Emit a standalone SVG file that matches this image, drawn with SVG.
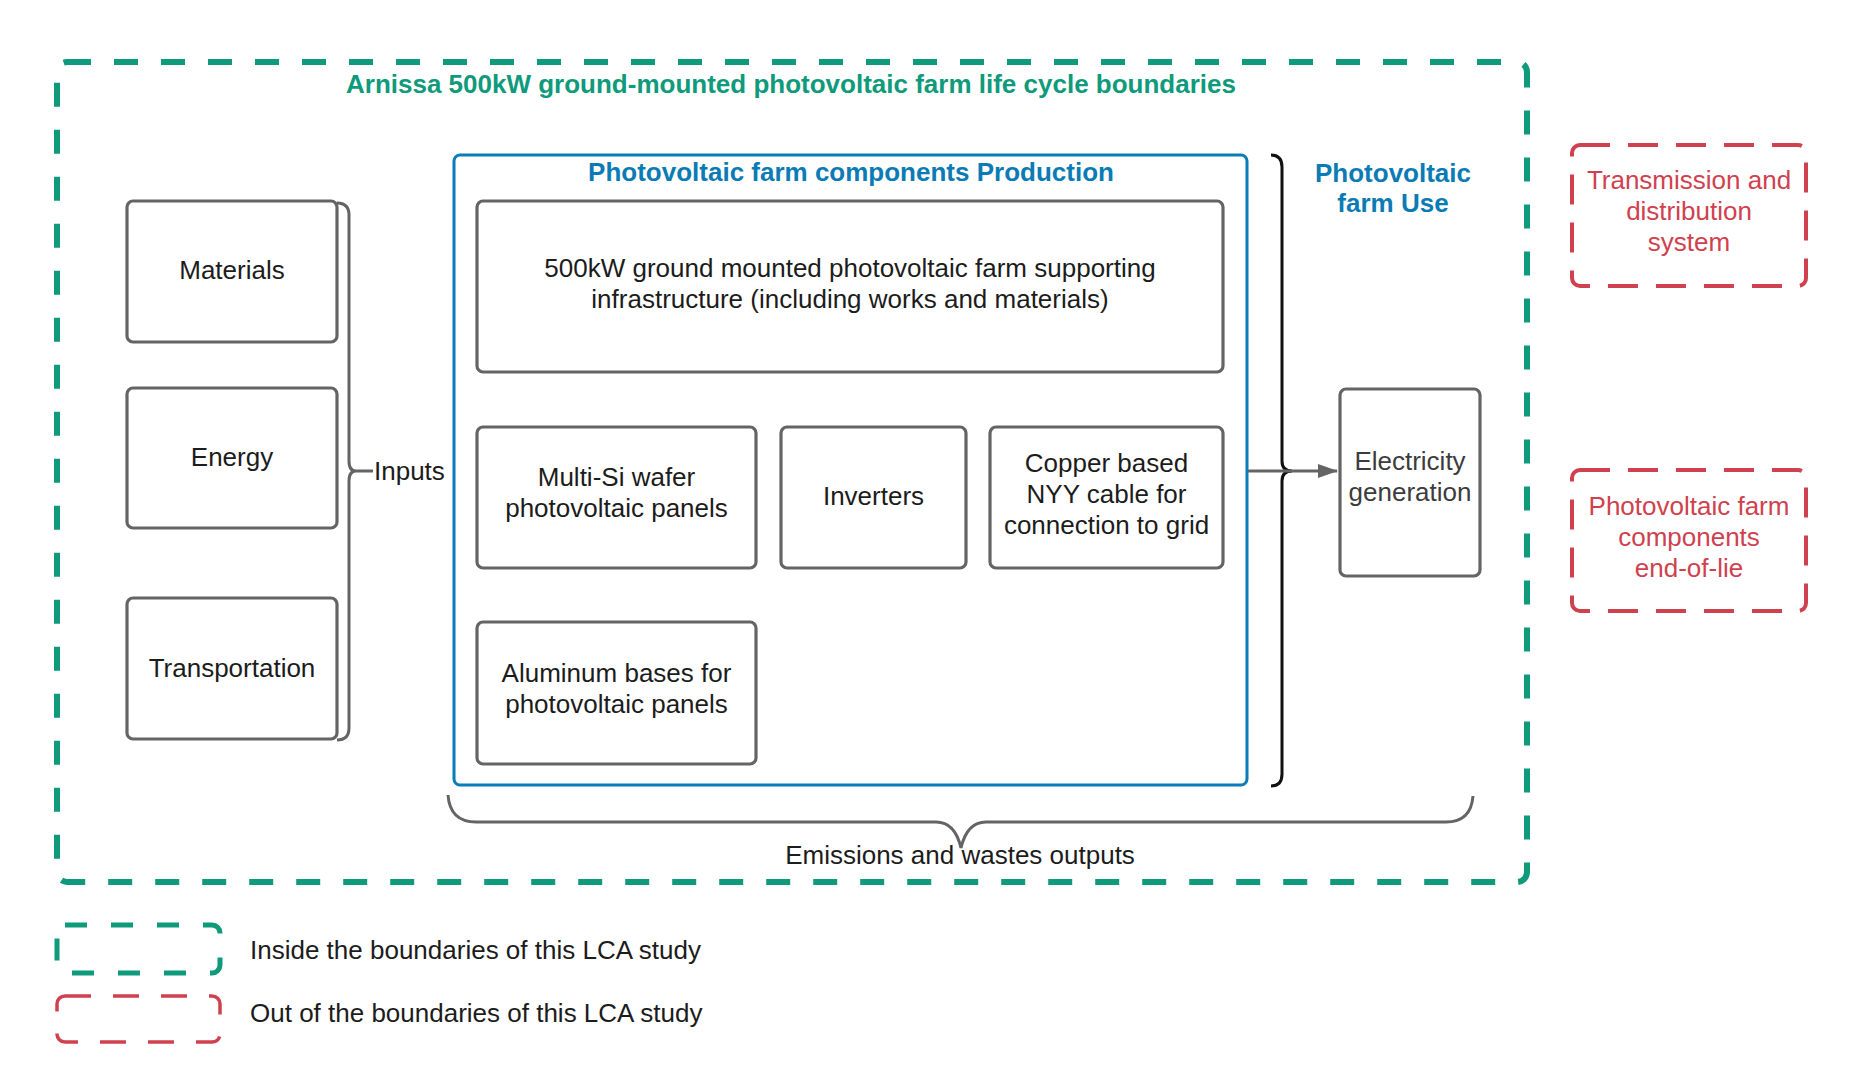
<svg xmlns="http://www.w3.org/2000/svg" width="1856" height="1073" viewBox="0 0 1856 1073">
<defs>
<style>
text{font-family:"Liberation Sans",Arial,sans-serif;}
.box{fill:#fff;stroke:#646464;stroke-width:3.2;}
.t{font-size:26px;fill:#1c1c1c;text-anchor:middle;}
.tg{font-size:26px;fill:#3c3c3c;text-anchor:middle;}
.red{fill:none;stroke:#d0414f;stroke-width:4;stroke-dasharray:30 18;}
.rt{font-size:26px;fill:#d0414f;text-anchor:middle;}
.green{fill:none;stroke:#0e9a7b;stroke-width:6;stroke-dasharray:24 23;}
.bt{font-size:26px;font-weight:bold;text-anchor:middle;}
.lt{font-size:26px;fill:#1c1c1c;}
</style>
<marker id="arr" markerWidth="20" markerHeight="14" refX="19" refY="7" orient="auto" markerUnits="userSpaceOnUse" viewBox="0 0 20 14">
<path d="M0,0 L20,7 L0,14 z" fill="#646464"/>
</marker>
</defs>
<rect width="1856" height="1073" fill="#fff"/>

<g id="boundary">
<rect class="green" x="57" y="62" width="1470" height="820" rx="10"/>
<text class="bt" x="791" y="93" fill="#0e9a7b">Arnissa 500kW ground-mounted photovoltaic farm life cycle boundaries</text>
</g>

<g id="production">
<rect x="454" y="155" width="793" height="630" rx="6" fill="none" stroke="#0a7db8" stroke-width="3"/>
<text class="bt" x="851" y="181" fill="#0b7bb5">Photovoltaic farm components Production</text>
</g>

<g id="materials">
<rect class="box" x="127" y="201" width="210" height="141" rx="6"/>
<text class="t" x="232" y="279">Materials</text>
</g>
<g id="energy">
<rect class="box" x="127" y="388" width="210" height="140" rx="6"/>
<text class="t" x="232" y="466">Energy</text>
</g>
<g id="transportation">
<rect class="box" x="127" y="598" width="210" height="141" rx="6"/>
<text class="t" x="232" y="677">Transportation</text>
</g>

<g id="infrastructure">
<rect class="box" x="477" y="201" width="746" height="171" rx="6"/>
<text class="t" x="850" y="277">500kW ground mounted photovoltaic farm supporting</text>
<text class="t" x="850" y="308">infrastructure (including works and materials)</text>
</g>
<g id="panels">
<rect class="box" x="477" y="427" width="279" height="141" rx="6"/>
<text class="t" x="616.5" y="486">Multi-Si wafer</text>
<text class="t" x="616.5" y="517">photovoltaic panels</text>
</g>
<g id="inverters">
<rect class="box" x="781" y="427" width="185" height="141" rx="6"/>
<text class="t" x="873.5" y="505">Inverters</text>
</g>
<g id="cable">
<rect class="box" x="990" y="427" width="233" height="141" rx="6"/>
<text class="t" x="1106.5" y="472">Copper based</text>
<text class="t" x="1106.5" y="503">NYY cable for</text>
<text class="t" x="1106.5" y="534">connection to grid</text>
</g>
<g id="aluminum">
<rect class="box" x="477" y="622" width="279" height="142" rx="6"/>
<text class="t" x="616.5" y="682">Aluminum bases for</text>
<text class="t" x="616.5" y="713">photovoltaic panels</text>
</g>

<g id="use">
<text class="bt" x="1393" y="182" fill="#0b7bb5">Photovoltaic</text>
<text class="bt" x="1393" y="212" fill="#0b7bb5">farm Use</text>
</g>
<g id="electricity">
<rect class="box" x="1340" y="389" width="140" height="187" rx="6"/>
<text class="tg" x="1410" y="470">Electricity</text>
<text class="tg" x="1410" y="501">generation</text>
</g>

<g id="transmission">
<rect class="red" x="1572" y="145" width="234" height="141" rx="8"/>
<text class="rt" x="1689" y="189">Transmission and</text>
<text class="rt" x="1689" y="220">distribution</text>
<text class="rt" x="1689" y="251">system</text>
</g>
<g id="endoflife">
<rect class="red" x="1572" y="470" width="234" height="141" rx="8"/>
<text class="rt" x="1689" y="515">Photovoltaic farm</text>
<text class="rt" x="1689" y="546">components</text>
<text class="rt" x="1689" y="577">end-of-lie</text>
</g>

<g id="connectors" fill="none">
<path d="M337,203 Q349,203 349,215 L349,461 Q349,471 356,471 L373,471 M356,471 Q349,471 349,481 L349,728 Q349,740 337,740" stroke="#646464" stroke-width="3"/>
<text class="lt" x="374" y="480">Inputs</text>
<path d="M1271,155 Q1282,155 1282,167 L1282,461 Q1282,471 1292,471 Q1282,471 1282,481 L1282,774 Q1282,786 1271,786" stroke="#111" stroke-width="3"/>
<line x1="1248" y1="471" x2="1337" y2="471" stroke="#646464" stroke-width="3" marker-end="url(#arr)"/>
<path d="M448,795 Q450,822 476,822 L936,822 Q955,822 961,848 Q967,822 986,822 L1446,822 Q1471,822 1473,796" stroke="#646464" stroke-width="3"/>
<text class="t" x="960" y="864">Emissions and wastes outputs</text>
</g>

<g id="legend">
<rect x="57" y="925" width="163" height="48" rx="8" fill="none" stroke="#0e9a7b" stroke-width="5" stroke-dasharray="22 24"/>
<text class="lt" x="250" y="959">Inside the boundaries of this LCA study</text>
<rect x="57" y="996" width="163" height="46" rx="8" fill="none" stroke="#d0414f" stroke-width="3.5" stroke-dasharray="26 22"/>
<text class="lt" x="250" y="1022">Out of the boundaries of this LCA study</text>
</g>
</svg>
